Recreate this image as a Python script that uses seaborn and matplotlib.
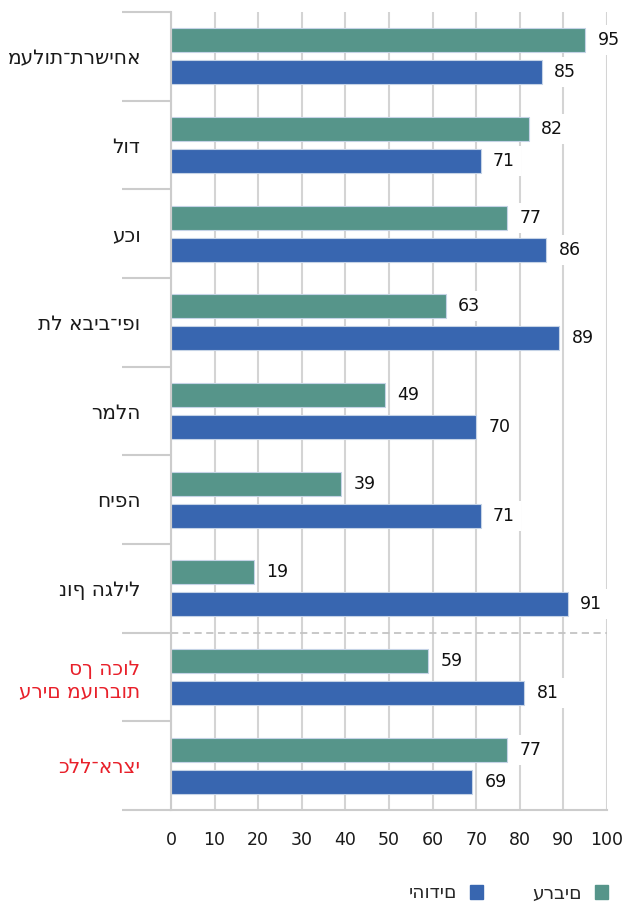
import pandas as pd
import numpy as np

import seaborn as sns
import matplotlib.pyplot as plt
from matplotlib.patches import Patch

# נתונים
cities = ["מעלות־תרשיחא", "לוד", "עכו", "תל אביב־יפו", "רמלה", "חיפה",
          "נוף הגליל", "סך הכול\nערים מעורבות", "כלל־ארצי"]
arabs = [95, 82, 77, 63, 49, 39, 19, 59, 77]
jews = [85, 71, 86, 89, 70, 71, 91, 81, 69]
groups = ["ערבים", "יהודים"]
colors = ["#56958A", "#3866B0"]
red_labels = [7, 8]
xticks = list(range(0, 101, 10))

df = pd.DataFrame({
    "city": cities * 2,
    "value": arabs + jews,
    "group": [groups[0]] * len(cities) + [groups[1]] * len(cities),
})

sns.set_style("white")
plt.rcParams['font.family'] = ['DejaVu Sans']

fig = plt.figure(figsize=(6.26, 9.06), dpi=100)
ax = fig.add_axes([171 / 626, 1 - 810 / 906, 436 / 626, 798 / 906])

sns.barplot(data=df, x="value", y="city", hue="group", hue_order=groups,
            palette=colors, saturation=1, orient="h", width=0.72, gap=0.25,
            edgecolor="#c5d3e6", linewidth=0.8, ax=ax, legend=False, zorder=2)

for cont in ax.containers:
    ax.bar_label(cont, padding=9, fontsize=12.5, color="#111111",
                 bbox=dict(boxstyle="square,pad=0.35", fc="white", ec="none"),
                 zorder=3)

ax.set_xlim(0, 100)
ax.set_ylim(len(cities) - 0.5, -0.5)
ax.set_xticks(xticks)
ax.set_xticklabels([str(t) for t in xticks], fontsize=12.5, color="#1a1a1a")
ax.set_yticks(range(len(cities)))
ax.set_yticklabels(cities, fontsize=14.5, color="#1a1a1a")
for i in red_labels:
    ax.get_yticklabels()[i].set_color("#e8202a")

ax.set_yticks(np.arange(-0.5, len(cities)), minor=True)
ax.tick_params(axis="y", which="major", left=False, length=0, pad=22)
ax.tick_params(axis="y", which="minor", left=True, length=35, width=1.5,
               color="#cccccc")
ax.tick_params(axis="x", bottom=False, length=0, pad=15)

ax.grid(axis="x", color="#d4d4d4", linewidth=1.5, zorder=0)
ax.set_axisbelow(True)
ax.axhline(6.5, color="#c4c4c4", linestyle=(0, (4, 2.5)), linewidth=1.3, zorder=1)

for s in ["top", "right"]:
    ax.spines[s].set_visible(False)
for s in ["left", "bottom"]:
    ax.spines[s].set_color("#cccccc")
    ax.spines[s].set_linewidth(1.5)

ax.set_xlabel("")
ax.set_ylabel("")

handles = [Patch(color=colors[1]), Patch(color=colors[0])]
fig.legend(handles, [groups[1], groups[0]], ncol=2,
           loc="center", bbox_to_anchor=(508 / 626, 1 - 893 / 906),
           frameon=False, markerfirst=False, fontsize=13.5,
           handlelength=0.7, handleheight=0.7, columnspacing=2.6, handletextpad=0.7)

fig.savefig("out.png", dpi=100)
